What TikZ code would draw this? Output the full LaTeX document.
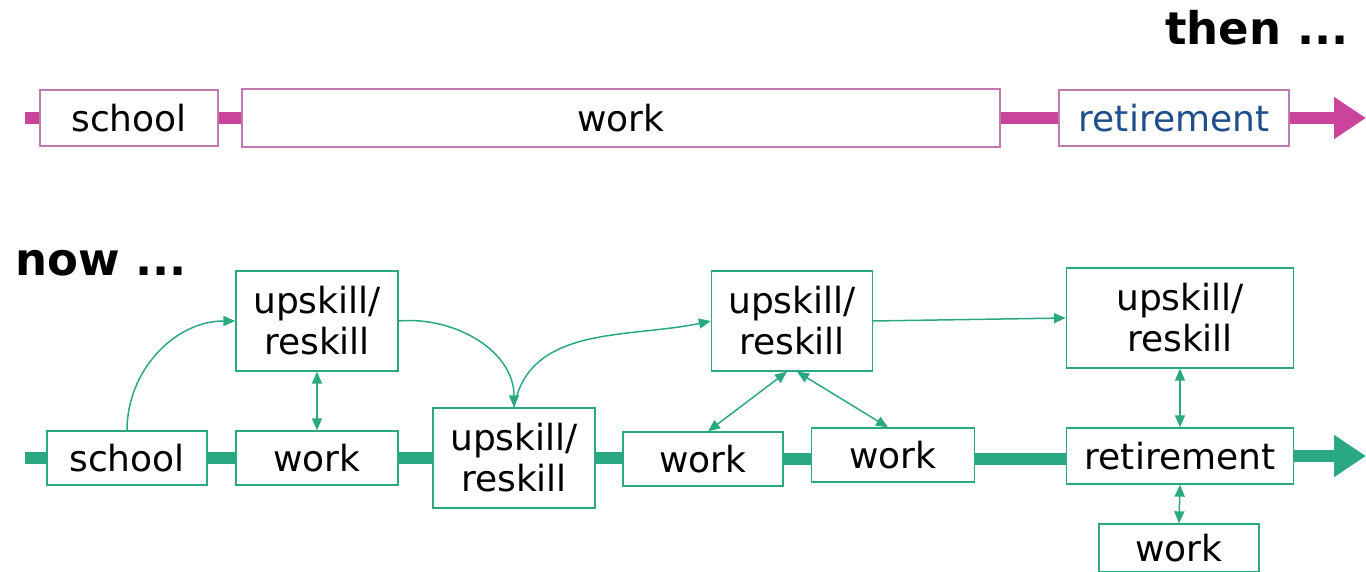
\documentclass[tikz,border=0pt]{standalone}
\usepackage{xcolor}
\usepackage{fontspec}
\setmainfont{DejaVu Sans}
\usepackage{tikz}
\usetikzlibrary{arrows.meta}

\definecolor{thenpink}{HTML}{C9449A}
\definecolor{thenframe}{HTML}{C07AB0}
\definecolor{nowgreen}{HTML}{2AA882}
\definecolor{retblue}{HTML}{1F4E8C}

\tikzset{
  stage/.style={draw, fill=white, line width=1.3pt, inner sep=0pt, align=center,
    font=\fontsize{36}{41}\selectfont},
  thenbox/.style={stage, draw=thenframe},
  nowbox/.style={stage, draw=nowgreen},
  thenline/.style={thenpink, line width=12pt},
  nowline/.style={nowgreen, line width=12pt},
  bigtip/.style={-{Triangle[length=32pt,width=40pt]}},
  link/.style={nowgreen, line width=1.5pt, -{Triangle[length=12pt,width=10pt]}},
  twoway/.style={link, {Triangle[length=12pt,width=10pt]}-{Triangle[length=12pt,width=10pt]}},
  title/.style={font=\fontsize{45}{45}\selectfont\bfseries}
}

\begin{document}
\begin{tikzpicture}[x=1pt,y=-1pt]
            \useasboundingbox (0,0) rectangle (1366,572);
            % then ...
            \node[title, anchor=base east] at (1352,45) (then) {then ...};
            \coordinate (tstart) at (25,118);
            \coordinate (tend) at (1366,118);
            \node[thenbox, minimum width=178pt, minimum height=56pt] at (129,118) (tschool) {school};
            \node[thenbox, minimum width=758pt, minimum height=58pt] at (621,118) (twork) {work};
            \node[thenbox, minimum width=230pt, minimum height=56pt, text=retblue] at (1174,118) (tret) {retirement};
            \draw[thenline] (tstart) -- (tschool.west);
            \draw[thenline] (tschool.east) -- (twork.west);
            \draw[thenline] (twork.east) -- (tret.west);
            \draw[thenline, bigtip] (tret.east) -- (tend);
            % now ...
            \node[title, anchor=base west] at (12,276) (now) {now ...};
            \coordinate (nstart) at (25,458);
            \coordinate (nend) at (1366,456);
            \node[nowbox, minimum width=160pt, minimum height=54pt] at (127,458) (school) {school};
            \node[nowbox, minimum width=162pt, minimum height=54pt] at (317,458) (work1) {work};
            \node[nowbox, minimum width=162pt, minimum height=100pt] at (317,321) (up1) {upskill/\\reskill};
            \node[nowbox, minimum width=162pt, minimum height=100pt] at (514,458) (upmid) {upskill/\\reskill};
            \node[nowbox, minimum width=160pt, minimum height=54pt] at (703,459) (work2) {work};
            \node[nowbox, minimum width=163pt, minimum height=54pt] at (893,455) (work3) {work};
            \node[nowbox, minimum width=161pt, minimum height=100pt] at (792,321) (up2) {upskill/\\reskill};
            \node[nowbox, minimum width=227pt, minimum height=100pt] at (1180,318) (up3) {upskill/\\reskill};
            \node[nowbox, minimum width=227pt, minimum height=56pt] at (1180,456) (ret) {retirement};
            \node[nowbox, minimum width=160pt, minimum height=48pt] at (1179,548) (work4) {work};
            \draw[nowline] (nstart) -- (school.west);
            \draw[nowline] (school.east) -- (work1.west);
            \draw[nowline] (work1.east) -- (work1.east -| upmid.west);
            \draw[nowline] (upmid.east) -- (upmid.east -| work2.west);
            \draw[nowline] (work2.east) -- (work2.east -| work3.west);
            \draw[nowline] (work2.east -| work3.east) -- (work2.east -| ret.west);
            \draw[nowline, bigtip] (ret.east) -- (nend);
            \draw[link] (school.north) to[out=90, in=180] (up1.west);
            \draw[twoway] (up1.south) -- (work1.north);
            \draw[link] (up1.east) to[out=5, in=90] (upmid.north);
            \draw[link] (upmid.north) to[out=80, in=192] (up2.west);
            \draw[link] (up2.east) -- (up3.west);
            \draw[twoway] ([xshift=-5pt]up2.south) -- ([xshift=5pt]work2.north);
            \draw[twoway] ([xshift=5pt]up2.south) -- ([xshift=-5pt]work3.north);
            \draw[twoway] (up3.south) -- (ret.north);
            \draw[twoway] (ret.south) -- (work4.north);
        \end{tikzpicture}
\end{document}
